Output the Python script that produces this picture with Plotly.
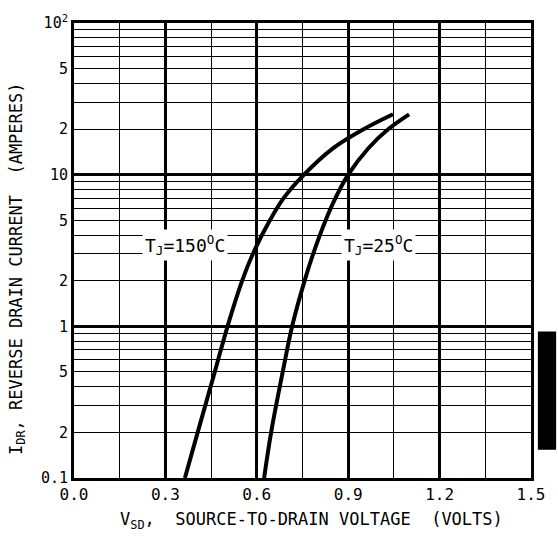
import plotly.graph_objects as go

# Data
v_150 = [0.364, 0.406, 0.462, 0.504, 0.552, 0.587, 0.643, 0.688, 0.755, 0.852, 0.952, 1.047]
i_150 = [0.1, 0.2, 0.5, 1.0, 2.0, 3.0, 5.0, 7.0, 10.0, 15.0, 20.0, 25.0]

v_25 = [0.624, 0.647, 0.685, 0.716, 0.757, 0.785, 0.826, 0.858, 0.900, 0.967, 1.032, 1.10]
i_25 = [0.1, 0.2, 0.5, 1.0, 2.0, 3.0, 5.0, 7.0, 10.0, 15.0, 20.0, 25.0]

x_major = [0.0, 0.3, 0.6, 0.9, 1.2, 1.5]
x_labels = ["0.0", "0.3", "0.6", "0.9", "1.2", "1.5"]
y_label_vals = [0.1, 0.2, 0.5, 1, 2, 5, 10, 20, 50, 100]
y_labels = ["0.1", "2", "5", "1", "2", "5", "10", "2", "5", "10<sup>2</sup>"]
decades = [0.1, 1, 10, 100]
minor_vals = [m * d for d in [0.1, 1, 10] for m in range(2, 10)]

FONT = "DejaVu Sans Mono"
fig = go.Figure()
fig.add_trace(go.Scatter(x=v_150, y=i_150, mode="lines",
                         line=dict(color="black", width=4, shape="spline", smoothing=1.0), showlegend=False))
fig.add_trace(go.Scatter(x=v_25, y=i_25, mode="lines",
                         line=dict(color="black", width=4, shape="spline", smoothing=1.0), showlegend=False))

fig.update_layout(
    width=558, height=540,
    margin=dict(l=74, r=27, t=20, b=62),
    paper_bgcolor="white", plot_bgcolor="white",
    font=dict(family=FONT, color="black", size=15),
    xaxis=dict(
        range=[0, 1.5], tickvals=x_major, ticktext=x_labels,
        showgrid=True, gridcolor="black", gridwidth=2.5,
        minor=dict(dtick=0.15, tick0=0, showgrid=True, gridcolor="black", gridwidth=1),
        showline=True, linecolor="black", linewidth=3, mirror=True,
        ticks="", zeroline=False,
        tickfont=dict(family=FONT, size=16),
    ),
    yaxis=dict(
        type="log", range=[-1, 2], tickvals=y_label_vals, ticktext=y_labels,
        showgrid=False,
        minor=dict(tickmode="array", tickvals=minor_vals, showgrid=True, gridcolor="black", gridwidth=1),
        showline=True, linecolor="black", linewidth=3, mirror=True,
        ticks="", zeroline=False,
        tickfont=dict(family=FONT, size=15),
    ),
    yaxis2=dict(
        type="log", range=[-1, 2], overlaying="y", tickvals=decades,
        showticklabels=False, showgrid=True, gridcolor="black", gridwidth=3,
        ticks="", zeroline=False,
    ),
)
# invisible trace to activate yaxis2
fig.add_trace(go.Scatter(x=[None], y=[None], yaxis="y2", showlegend=False))

# axis titles
fig.add_annotation(xref="paper", yref="paper", x=0.52, y=-0.094, showarrow=False,
                   text="V<sub>SD</sub>,  SOURCE-TO-DRAIN VOLTAGE  (VOLTS)",
                   font=dict(family=FONT, size=17), xanchor="center", yanchor="middle")
fig.add_annotation(xref="paper", yref="paper", x=-0.124, y=0.46, showarrow=False, textangle=-90,
                   text="I<sub>DR</sub>, REVERSE DRAIN CURRENT  (AMPERES)",
                   font=dict(family=FONT, size=17), xanchor="center", yanchor="middle")

fig.add_annotation(x=0.364, y=0.537, yref="y", text="T<sub>J</sub>=150<sup>O</sup>C", showarrow=False,
                   bgcolor="white", font=dict(family=FONT, size=18), borderpad=2)
fig.add_annotation(x=1.0, y=0.537, yref="y", text="T<sub>J</sub>=25<sup>O</sup>C", showarrow=False,
                   bgcolor="white", font=dict(family=FONT, size=18), borderpad=2)

# scanned thumb-tab on the right edge
fig.add_shape(type="rect", xref="paper", yref="paper", x0=1.015, x1=1.055, y0=0.062, y1=0.322,
              fillcolor="black", line=dict(width=0), layer="above")

fig.write_html("out.html")
